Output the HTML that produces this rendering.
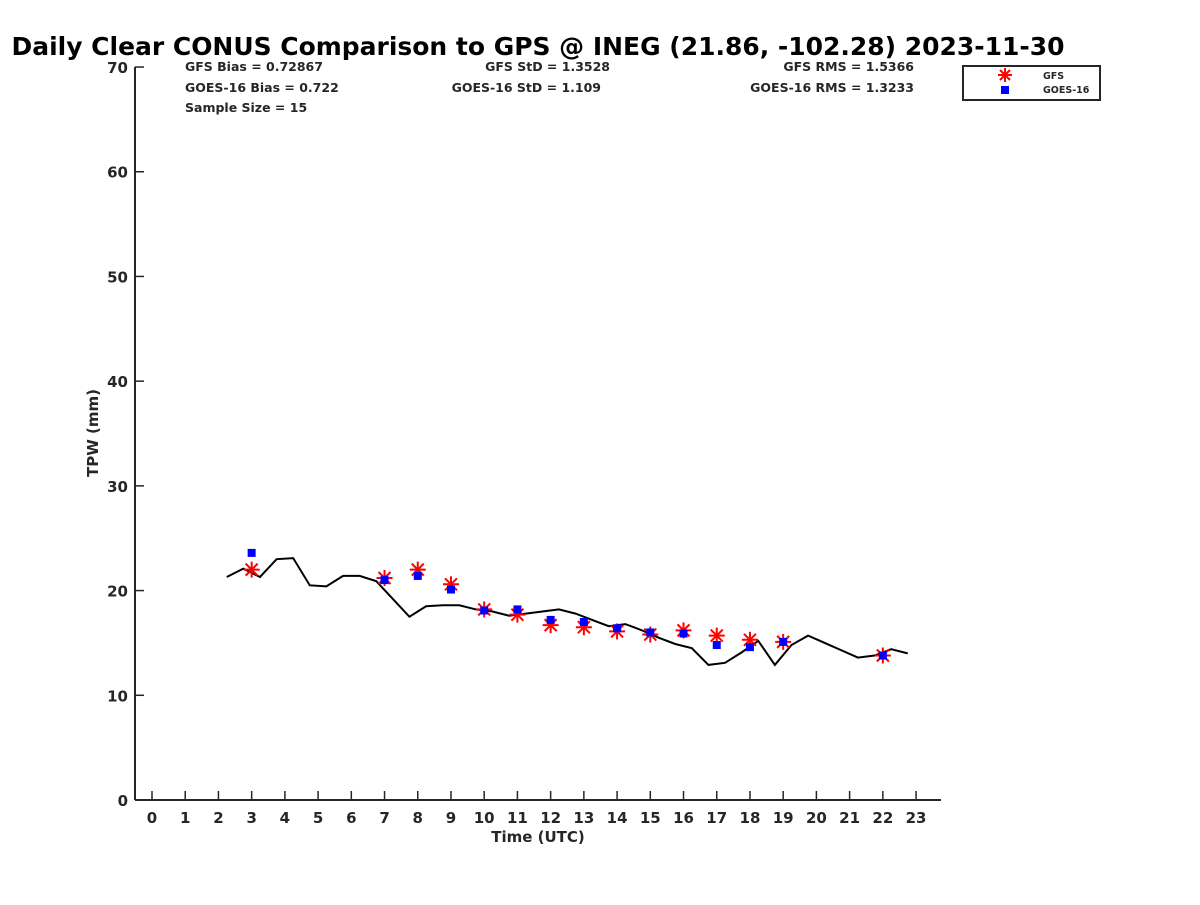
<!DOCTYPE html>
<html><head><meta charset="utf-8"><style>
body{margin:0;background:#fff;}
svg text{font-family:"DejaVu Sans","Liberation Sans",sans-serif;font-weight:bold;fill:#262626;}
</style></head><body>
<svg id="chart" width="1200" height="900" xmlns="http://www.w3.org/2000/svg">
<text x="538" y="55" text-anchor="middle" textLength="1053" lengthAdjust="spacingAndGlyphs" style="font-size:25px;fill:#000">Daily Clear CONUS Comparison to GPS @ INEG (21.86, -102.28) 2023-11-30</text>
<g style="font-size:12.5px">
<text x="185" y="71">GFS Bias = 0.72867</text>
<text x="185" y="92">GOES-16 Bias = 0.722</text>
<text x="185" y="112">Sample Size = 15</text>
<text x="610" y="71" text-anchor="end">GFS StD = 1.3528</text>
<text x="601" y="92" text-anchor="end">GOES-16 StD = 1.109</text>
<text x="914" y="71" text-anchor="end">GFS RMS = 1.5366</text>
<text x="914" y="92" text-anchor="end">GOES-16 RMS = 1.3233</text>
</g>
<g id="axes"></g>
<g id="marks"></g>
<g>
<rect x="963" y="66" width="137" height="34" fill="#fff" stroke="#262626" stroke-width="2"/>
<g stroke="#f00" stroke-width="2">
<line x1="1005" y1="68" x2="1005" y2="82"/><line x1="998" y1="75" x2="1012" y2="75"/><line x1="1000" y1="70" x2="1010" y2="80"/><line x1="1010" y1="70" x2="1000" y2="80"/></g>
<rect x="1001" y="86" width="8" height="8" fill="#00f"/>
<text x="1043" y="79" style="font-size:9.5px">GFS</text>
<text x="1043" y="93" style="font-size:9.5px">GOES-16</text>
</g>
</svg>
<script>
const xTicks=[0,1,2,3,4,5,6,7,8,9,10,11,12,13,14,15,16,17,18,19,20,21,22,23];
const yTicks=[0,10,20,30,40,50,60,70];
const gpsTimes=[2.25,2.75,3.25,3.75,4.25,4.75,5.25,5.75,6.25,6.75,7.75,8.25,8.75,9.25,9.75,10.25,10.75,11.25,11.75,12.25,12.75,13.25,13.75,14.25,14.75,15.25,15.75,16.25,16.75,17.25,17.75,18.25,18.75,19.25,19.75,20.25,20.75,21.25,21.75,22.25,22.75];
const gpsValues=[21.3,22.1,21.3,23.0,23.1,20.5,20.4,21.4,21.4,20.9,17.5,18.5,18.6,18.6,18.2,18.0,17.6,17.8,18.0,18.2,17.8,17.2,16.6,16.8,16.2,15.5,14.9,14.5,12.9,13.1,14.1,15.2,12.9,14.8,15.7,15.0,14.3,13.6,13.8,14.4,14.0];
const satTimes=[3,7,8,9,10,11,12,13,14,15,16,17,18,19,22];
const gfsValues=[22.0,21.2,22.0,20.6,18.2,17.7,16.7,16.5,16.1,15.8,16.2,15.7,15.3,15.1,13.8];
const goesValues=[23.6,21.0,21.4,20.1,18.1,18.2,17.2,17.0,16.4,16.0,15.9,14.8,14.6,15.1,13.8];
const NS="http://www.w3.org/2000/svg";
const xs=h=>152+h*33.22, ys=v=>800-v*10.471;
function mk(tag,attrs,parent){const e=document.createElementNS(NS,tag);for(const k in attrs)e.setAttribute(k,attrs[k]);parent.appendChild(e);return e;}
const ax=document.getElementById('axes'), mg=document.getElementById('marks');
let a=mk('line',{x1:135,y1:800,x2:941,y2:800,stroke:'#262626','stroke-width':2},ax);


a=mk('line',{x1:135,y1:67,x2:135,y2:800,stroke:'#262626','stroke-width':2},ax);


xTicks.forEach(t=>{
 mk('line',{x1:xs(t),y1:800,x2:xs(t),y2:791,stroke:'#262626','stroke-width':1.5},ax);
 const tx=mk('text',{x:xs(t),y:823,'text-anchor':'middle',style:'font-size:15px'},ax);tx.textContent=t;
 
 
});
yTicks.forEach(t=>{
 mk('line',{x1:135,y1:ys(t),x2:144,y2:ys(t),stroke:'#262626','stroke-width':1.5},ax);
 const tx=mk('text',{x:128,y:ys(t)+6,'text-anchor':'end',style:'font-size:15px'},ax);tx.textContent=t;
 
 
});
let xt=mk('text',{x:538,y:842,'text-anchor':'middle',style:'font-size:15px'},ax);xt.textContent='Time (UTC)';


let yt=mk('text',{x:98,y:433,'text-anchor':'middle',transform:'rotate(-90 98 433)',style:'font-size:15px'},ax);yt.textContent='TPW (mm)';


const ln=mk('polyline',{points:gpsTimes.map((t,i)=>xs(t)+','+ys(gpsValues[i])).join(' '),fill:'none',stroke:'#000','stroke-width':2},mg);


satTimes.forEach((t,i)=>{
 const cx=xs(t),cy=ys(gfsValues[i]);
 const g=mk('g',{stroke:'#f00','stroke-width':2},mg);
 
 
 mk('line',{x1:cx,y1:cy-8,x2:cx,y2:cy+8},g);mk('line',{x1:cx-8,y1:cy,x2:cx+8,y2:cy},g);
 mk('line',{x1:cx-6,y1:cy-6,x2:cx+6,y2:cy+6},g);mk('line',{x1:cx+6,y1:cy-6,x2:cx-6,y2:cy+6},g);
});
satTimes.forEach((t,i)=>{
 const r=mk('rect',{x:xs(t)-4,y:ys(goesValues[i])-4,width:8,height:8,fill:'#00f'},mg);
 
 
});
</script>
</body></html>
